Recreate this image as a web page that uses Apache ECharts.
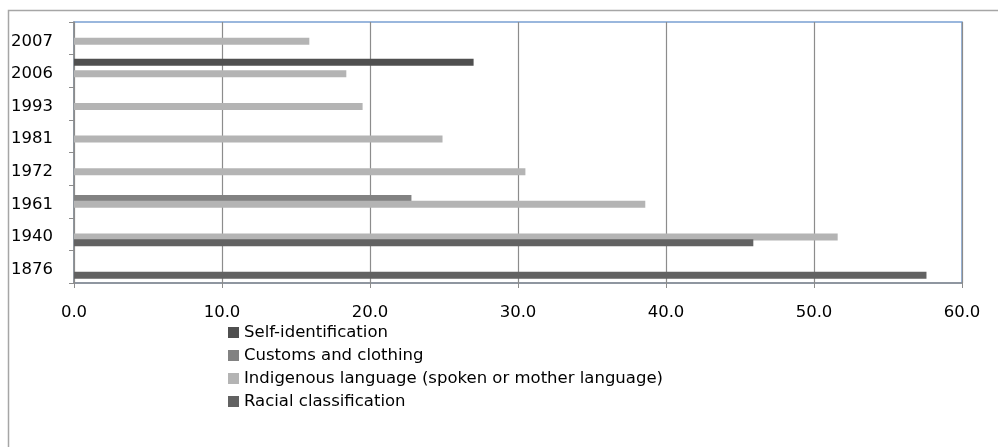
<!DOCTYPE html>
<html>
<head>
<meta charset="utf-8">
<script src="https://cdn.jsdelivr.net/npm/echarts@6/dist/echarts.min.js"></script>
<style>
  html, body { margin: 0; padding: 0; background: #ffffff; }
  #chart { width: 998px; height: 447px; }
</style>
</head>
<body>
<div id="chart"></div>
<script>
const years = ['1876', '1940', '1961', '1972', '1981', '1993', '2006', '2007'];
const racialClassification = [57.6, 45.9, null, null, null, null, null, null];
const indigenousLanguage = [null, 51.6, 38.6, 30.5, 24.9, 19.5, 18.4, 15.9];
const customsClothing = [null, null, 22.8, null, null, null, null, null];
const selfIdentification = [null, null, null, null, null, null, 27.0, null];
const xTicks = { min: 0, max: 60, interval: 10 };

const legendOrder = ['Self-identification', 'Customs and clothing', 'Indigenous language (spoken or mother language)', 'Racial classification'];

const FONT = 'DejaVu Sans';
const FS = 16.5;
const chart = echarts.init(document.getElementById('chart'), null, { renderer: 'canvas' });

function barSeries(name, data, color) {
  return {
    name: name,
    type: 'bar',
    data: data,
    barWidth: 7,
    barGap: '-18%',
    itemStyle: { color: color },
    emphasis: { disabled: true },
    animation: false
  };
}

chart.setOption({
  animation: false,
  backgroundColor: '#ffffff',
  textStyle: { fontFamily: FONT },
  graphic: [{
    type: 'rect',
    shape: { x: 8.5, y: 10.5, width: 1100, height: 600 },
    style: { fill: 'none', stroke: '#a6a6a6', lineWidth: 1.5 },
    silent: true,
    z: -10
  }],
  grid: {
    left: 74, right: 36, top: 22, bottom: 164,
    show: true,
    borderColor: '#79a0d2',
    borderWidth: 1.5,
    backgroundColor: 'transparent'
  },
  legend: {
    orient: 'vertical',
    left: 228,
    top: 324,
    padding: 0,
    itemWidth: 11,
    itemHeight: 11,
    itemGap: 6,
    icon: 'rect',
    data: legendOrder,
    textStyle: { fontFamily: FONT, fontSize: FS, color: '#000', lineHeight: 16 },
    selectedMode: false
  },
  xAxis: {
    type: 'value',
    min: xTicks.min, max: xTicks.max, interval: xTicks.interval,
    axisLine: { show: true, lineStyle: { color: '#8c8c8c', width: 1.5 } },
    axisTick: { show: true, length: 5, lineStyle: { color: '#8c8c8c' } },
    splitLine: { show: true, lineStyle: { color: '#8c8c8c', width: 1.2 } },
    axisLabel: {
      margin: 21,
      fontFamily: FONT, fontSize: FS, color: '#000',
      formatter: v => v.toFixed(1)
    }
  },
  yAxis: {
    type: 'category',
    data: years,
    axisLine: { show: true, lineStyle: { color: '#8c8c8c', width: 1.5 } },
    axisTick: { show: true, length: 5, lineStyle: { color: '#8c8c8c' } },
    axisLabel: {
      margin: 21, color: '#000',
      formatter: v => '{y|' + v + '}',
      rich: { y: { fontFamily: FONT, fontSize: FS, color: '#000', padding: [6, 0, 0, 0] } }
    },
    splitLine: { show: false }
  },
  series: [
    barSeries('Self-identification', selfIdentification, '#4f4f4f'),
    barSeries('Customs and clothing', customsClothing, '#828282'),
    barSeries('Indigenous language (spoken or mother language)', indigenousLanguage, '#b4b4b4'),
    barSeries('Racial classification', racialClassification, '#626262')
  ]
});
</script>
</body>
</html>
